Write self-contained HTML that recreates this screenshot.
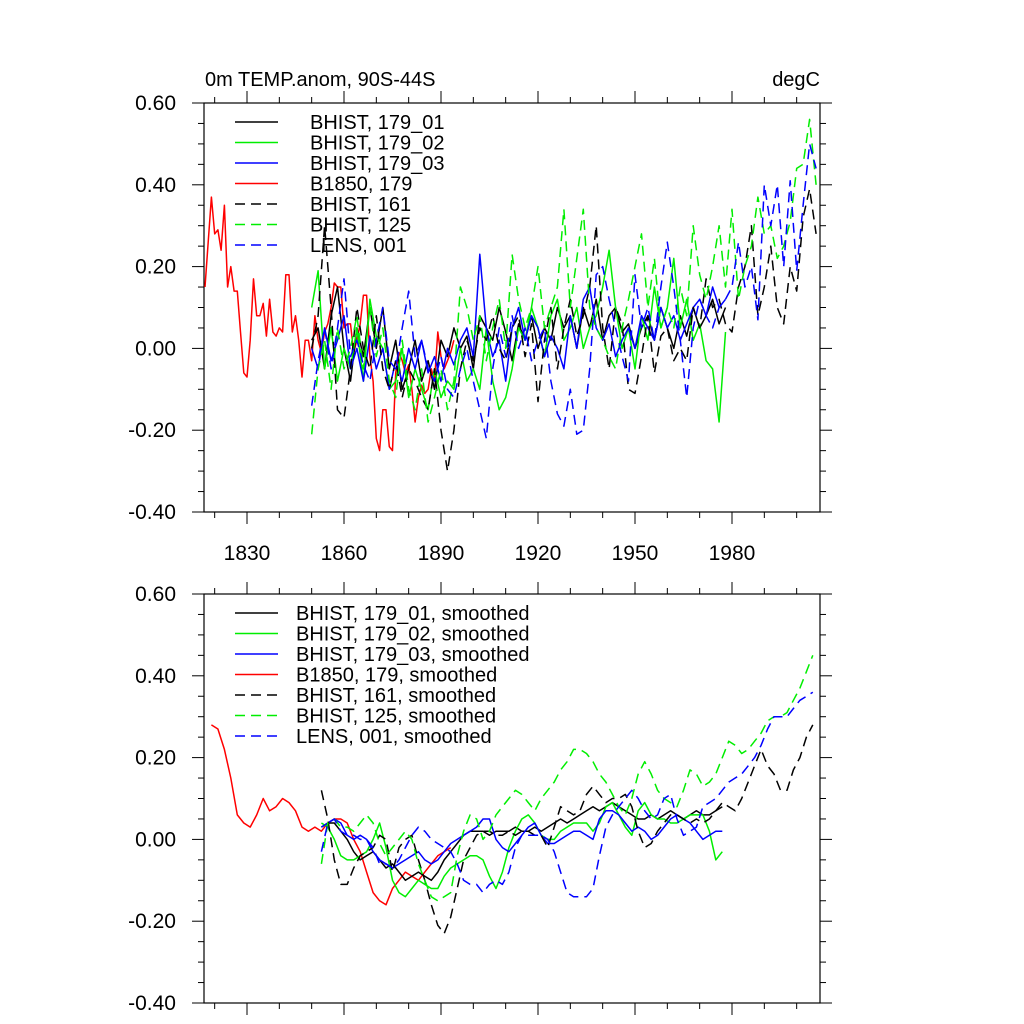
<!DOCTYPE html>
<html><head><meta charset="utf-8"><style>
html,body{margin:0;padding:0;background:#fff;}
svg{display:block;font-family:"Liberation Sans",Arial,sans-serif;}
</style></head><body>
<svg id="chart" width="1024" height="1024" viewBox="0 0 1024 1024">
<g id="top"></g>
<g id="bot"></g>
</svg>
<script>
// ---------- data ----------
const yTickLabels = ["-0.40","-0.20","0.00","0.20","0.40","0.60"];
const yTickValues = [-0.4,-0.2,0,0.2,0.4,0.6];
const xTickLabels = ["1830","1860","1890","1920","1950","1980"];
const xTickYears = [1830,1860,1890,1920,1950,1980];

const seriesNames = ["BHIST, 179_01","BHIST, 179_02","BHIST, 179_03","B1850, 179","BHIST, 161","BHIST, 125","LENS, 001"];

// top panel (annual / 2-yearly anomalies)
const redStart = 1817, redStep = 1;
const redVals = [0.15,0.26,0.37,0.28,0.29,0.24,0.35,0.15,0.20,0.14,0.14,0.04,-0.06,-0.07,0.02,0.17,0.08,0.08,0.11,0.03,0.12,0.04,0.03,0.05,0.04,0.18,0.18,0.04,0.08,0.02,-0.07,0.02,
0.02,-0.03,0.08,0.02,-0.01,0.04,0.06,0.10,0.16,0.15,0.15,0.05,0.06,0.06,-0.01,0.02,0.06,0.13,0.13,-0.02,-0.08,-0.22,-0.25,-0.15,-0.15,-0.24,-0.25,-0.06,-0.01,-0.03,-0.06,-0.04,-0.10,-0.18,-0.12,-0.09,-0.11,-0.10,-0.05,-0.08,0.04,-0.02,-0.05,-0.03,-0.01,0.02];

const solStart = 1850, solStep = 2;
const blackSolVals = [0.02,0.05,-0.05,0.08,0.15,0.00,-0.08,0.05,-0.02,0.10,0.00,0.10,-0.05,0.02,-0.10,-0.05,0.02,-0.08,-0.03,-0.10,0.02,-0.02,0.05,0.00,0.03,-0.05,0.08,0.05,0.02,0.10,0.04,-0.03,0.06,0.02,0.08,0.00,0.05,0.02,0.10,0.05,0.08,0.00,0.10,0.05,0.12,0.02,0.08,0.10,0.04,0.06,0.00,0.05,0.08,0.02,0.10,0.05,0.00,0.08,0.03,0.10,0.05,0.08,0.12,0.06,0.10];
const greenSolVals = [0.10,0.19,-0.05,0.05,-0.08,0.00,-0.05,0.05,-0.08,0.12,0.03,0.00,-0.10,-0.08,0.00,-0.12,-0.05,-0.10,-0.15,-0.05,-0.12,-0.08,-0.10,0.00,-0.08,-0.05,-0.10,0.05,-0.08,-0.15,-0.12,-0.05,0.05,0.02,0.10,0.05,-0.02,0.08,0.12,0.02,0.05,0.10,0.00,0.05,0.08,0.15,0.24,0.10,0.00,0.05,-0.05,0.08,0.02,0.15,0.05,0.10,0.22,0.05,0.12,0.02,0.06,-0.03,-0.05,-0.18,0.04];
const blueSolVals = [0.00,-0.05,0.05,-0.03,0.02,0.08,-0.05,0.00,-0.08,0.03,-0.05,0.00,-0.10,-0.03,-0.08,0.00,-0.05,0.02,-0.06,-0.02,-0.08,0.00,-0.04,0.02,0.05,-0.02,0.23,0.05,-0.02,0.02,-0.08,0.05,0.10,0.02,0.08,0.05,-0.02,0.03,0.00,-0.05,0.08,0.00,0.12,0.15,0.05,0.02,0.06,-0.02,0.02,0.05,0.00,0.08,0.05,0.02,0.10,0.05,0.08,0.02,0.06,0.10,0.12,0.08,0.15,0.10,0.12];

const dashStart = 1850, dashStep = 2;
const blackDashVals = [0.00,0.08,0.30,0.10,-0.15,-0.17,-0.05,0.10,0.00,-0.05,0.08,-0.05,-0.10,-0.03,-0.12,-0.05,-0.08,-0.12,-0.15,-0.05,-0.20,-0.30,-0.20,-0.05,0.02,-0.03,0.05,0.02,0.08,0.00,-0.03,0.05,0.08,-0.02,0.06,-0.13,0.02,0.10,-0.05,0.05,0.12,0.03,0.08,0.15,0.30,0.05,-0.05,0.10,0.06,-0.10,-0.11,-0.02,0.08,-0.06,0.03,0.05,-0.03,0.00,-0.03,0.10,0.05,0.17,0.10,0.12,0.06,0.04,0.15,0.20,0.30,0.08,0.15,0.25,0.10,0.06,0.20,0.14,0.32,0.39,0.28];
const greenDashVals = [-0.21,-0.05,0.02,-0.10,0.05,-0.05,0.00,0.08,-0.05,0.10,-0.02,0.05,-0.08,-0.12,0.02,-0.10,-0.15,-0.05,-0.18,-0.12,-0.05,-0.15,-0.08,0.15,0.10,0.02,0.08,-0.03,0.05,0.12,0.00,0.23,0.12,0.05,0.10,0.20,0.05,0.10,0.15,0.34,0.10,0.22,0.34,0.10,0.05,0.02,-0.02,-0.05,0.05,0.12,0.20,0.28,0.10,0.22,0.05,0.10,0.05,0.15,0.08,0.30,0.18,0.12,0.20,0.30,0.15,0.34,0.12,0.20,0.25,0.37,0.28,0.30,0.22,0.25,0.31,0.44,0.45,0.56,0.40];
const blueDashVals = [-0.14,-0.03,0.05,-0.05,0.05,0.17,-0.02,0.02,-0.04,-0.08,0.02,0.10,-0.03,-0.05,0.05,0.14,-0.02,0.02,-0.05,-0.08,-0.02,-0.10,-0.12,-0.05,0.00,-0.08,-0.15,-0.22,-0.05,0.05,-0.02,0.08,0.00,0.05,-0.03,0.02,0.05,-0.08,-0.16,-0.19,-0.10,-0.21,-0.20,-0.05,0.18,0.20,0.12,0.05,-0.02,-0.08,0.18,0.05,0.10,0.02,0.15,0.26,0.15,0.02,-0.12,0.05,0.12,0.08,0.05,0.10,0.12,0.15,0.26,0.15,0.20,0.07,0.40,0.30,0.40,0.20,0.41,0.19,0.35,0.50,0.44];

// bottom panel (smoothed)
const redSmStart = 1819, redSmStep = 2;
const redSmVals = [0.28,0.27,0.22,0.15,0.06,0.04,0.03,0.06,0.10,0.07,0.08,0.10,0.09,0.07,0.03,0.02,0.03,0.02,0.04,0.05,0.05,0.04,0.00,-0.03,-0.08,-0.13,-0.15,-0.16,-0.12,-0.10,-0.08,-0.09,-0.10,-0.08,-0.06,-0.04,-0.03,-0.02];
const smStart = 1853, smStep = 2;
const blackSolSm = [0.03,0.04,0.04,0.02,0.00,-0.03,-0.05,-0.04,-0.03,-0.05,-0.07,-0.06,-0.08,-0.10,-0.09,-0.08,-0.09,-0.10,-0.08,-0.05,-0.03,-0.01,0.01,0.02,0.02,0.02,0.01,0.02,0.02,0.02,0.03,0.02,0.02,0.03,0.02,0.03,0.04,0.05,0.04,0.05,0.06,0.07,0.08,0.07,0.08,0.09,0.08,0.07,0.06,0.05,0.05,0.06,0.05,0.06,0.07,0.06,0.05,0.06,0.07,0.06,0.06,0.07,0.08];
const greenSolSm = [0.04,0.03,0.00,-0.04,-0.05,-0.05,-0.04,-0.03,0.00,0.04,-0.02,-0.10,-0.13,-0.14,-0.12,-0.10,-0.11,-0.12,-0.12,-0.09,-0.07,-0.06,-0.05,-0.04,-0.04,-0.05,-0.09,-0.12,-0.08,-0.02,0.02,0.05,0.06,0.04,0.01,0.00,0.00,0.02,0.03,0.04,0.04,0.04,0.02,0.04,0.08,0.09,0.06,0.03,0.01,0.07,0.09,0.06,0.05,0.05,0.04,0.04,0.05,0.06,0.06,0.06,0.02,-0.05,-0.03];
const blueSolSm = [0.03,0.04,0.05,0.04,0.01,0.00,0.01,0.00,-0.03,-0.05,-0.06,-0.07,-0.06,-0.05,-0.04,-0.03,-0.05,-0.06,-0.05,-0.03,-0.01,0.00,0.01,0.02,0.03,0.05,0.05,0.00,-0.02,-0.03,-0.01,0.01,0.03,0.04,0.01,-0.01,-0.01,0.00,0.01,0.02,0.02,0.01,0.00,0.05,0.07,0.07,0.06,0.04,0.02,0.03,0.02,0.00,0.01,0.03,0.05,0.06,0.05,0.04,0.02,0.00,0.01,0.02,0.02];
const blackDashSm = [0.12,0.05,-0.05,-0.11,-0.11,-0.07,-0.04,-0.03,-0.02,0.01,0.00,-0.08,-0.02,0.00,0.01,-0.05,-0.10,-0.16,-0.21,-0.23,-0.19,-0.12,-0.05,-0.02,0.01,0.02,0.02,0.01,0.01,0.02,0.01,0.02,0.02,0.01,0.01,-0.02,0.03,0.08,0.07,0.06,0.07,0.11,0.13,0.11,0.09,0.10,0.10,0.11,0.08,0.02,-0.02,-0.01,0.02,0.04,0.06,0.06,0.05,0.04,0.05,0.04,0.05,0.07,0.09,0.08,0.07,0.10,0.14,0.18,0.22,0.18,0.16,0.12,0.12,0.17,0.20,0.25,0.28];
const greenDashSm = [-0.06,0.04,0.05,0.03,0.03,0.02,0.04,0.06,0.04,-0.01,-0.04,-0.02,0.00,0.02,0.00,-0.06,-0.10,-0.14,-0.15,-0.14,-0.13,-0.04,0.02,0.06,0.05,0.00,0.02,0.06,0.08,0.10,0.12,0.11,0.09,0.07,0.10,0.12,0.14,0.17,0.19,0.22,0.22,0.21,0.19,0.16,0.14,0.11,0.08,0.06,0.10,0.16,0.19,0.16,0.12,0.10,0.09,0.08,0.12,0.17,0.16,0.13,0.14,0.16,0.20,0.24,0.23,0.21,0.22,0.24,0.26,0.29,0.30,0.30,0.31,0.34,0.37,0.41,0.45];
const blueDashSm = [-0.03,0.04,0.05,0.02,0.01,0.01,0.00,0.00,-0.02,-0.06,-0.06,-0.07,-0.05,-0.02,0.01,0.03,0.02,0.00,-0.01,-0.02,-0.03,-0.06,-0.10,-0.11,-0.11,-0.13,-0.11,-0.10,-0.11,-0.08,-0.02,0.01,0.01,0.01,0.01,0.00,-0.03,-0.08,-0.13,-0.14,-0.14,-0.14,-0.12,-0.04,0.03,0.06,0.08,0.10,0.12,0.10,0.07,0.05,0.06,0.10,0.11,0.05,0.01,0.02,0.03,0.08,0.09,0.10,0.12,0.14,0.15,0.16,0.18,0.20,0.23,0.27,0.30,0.30,0.30,0.32,0.34,0.35,0.36];

// ---------- drawing ----------
const NS = "http://www.w3.org/2000/svg";
const X0 = 204, X1 = 820;
function xScale(yr){ return 247 + (yr - 1830) * 3.2333; }
function mk(tag, attrs, parent){
  const e = document.createElementNS(NS, tag);
  for (const k in attrs) e.setAttribute(k, attrs[k]);
  parent.appendChild(e); return e;
}
function makeY(top, bottom){ return v => bottom - (v + 0.4) / 1.0 * (bottom - top); }

function drawAxes(g, top, bottom, showX){
  const yS = makeY(top, bottom);
  const frame = mk("rect", {x:X0, y:top, width:X1-X0, height:bottom-top, fill:"none", stroke:"#000", "stroke-width":1.2}, g);
  
  
  for (let v = -0.4; v <= 0.6001; v += 0.05){
    const y = yS(v);
    const major = Math.abs(Math.round(v*10) - v*10) < 0.01 && Math.round(v*10) % 2 === 0;
    const len = major ? 12 : 6;
    mk("line", {x1:X0-len, x2:X0, y1:y, y2:y, stroke:"#000", "stroke-width":1}, g);
    mk("line", {x1:X1, x2:X1+len, y1:y, y2:y, stroke:"#000", "stroke-width":1}, g);
  }
  yTickValues.forEach((v,i)=>{
    const t = mk("text", {x:176, y:yS(v)+7, "text-anchor":"end", "font-size":21}, g);
    t.textContent = yTickLabels[i];
    
    
  });
  for (let yr = 1820; yr <= 2000; yr += 10){
    const x = xScale(yr);
    const major = (yr - 1830) % 30 === 0;
    const len = major ? 12 : 6;
    mk("line", {x1:x, x2:x, y1:bottom, y2:bottom+len, stroke:"#000", "stroke-width":1}, g);
    mk("line", {x1:x, x2:x, y1:top-len, y2:top, stroke:"#000", "stroke-width":1}, g);
  }
  if (showX){
    xTickYears.forEach((yr,i)=>{
      const t = mk("text", {x:xScale(yr), y:bottom+48, "text-anchor":"middle", "font-size":21}, g);
      t.textContent = xTickLabels[i];
      
      
    });
  }
  return yS;
}

function drawLine(g, yS, start, step, vals, color, dashed, name){
  const pts = vals.map((v,i)=> xScale(start + i*step).toFixed(1) + "," + yS(v).toFixed(1)).join(" ");
  const p = mk("polyline", {points:pts, fill:"none", stroke:color, "stroke-width":1.5, "stroke-linejoin":"round"}, g);
  if (dashed) p.setAttribute("stroke-dasharray", "10,6");
  
  
}

const colors = ["#000","#00ee00","#0000ff","#ff0000","#000","#00ee00","#0000ff"];
const dashes = [false,false,false,false,true,true,true];

function drawLegend(g, y0, textX, suffix){
  seriesNames.forEach((n,i)=>{
    const y = y0 + i*20.5;
    const l = mk("line", {x1:235, x2:278, y1:y, y2:y, stroke:colors[i], "stroke-width":1.5}, g);
    if (dashes[i]) l.setAttribute("stroke-dasharray","10,6");
    
    
    const t = mk("text", {x:textX, y:y+7, "font-size":20}, g);
    t.textContent = n + suffix;
    
    
  });
}

// top
const gt = document.getElementById("top");
const yT = drawAxes(gt, 103, 512, true);
drawLine(gt, yT, redStart, redStep, redVals, colors[3], false, "series-b1850-179");
drawLine(gt, yT, solStart, solStep, blackSolVals, colors[0], false, "series-bhist-179-01");
drawLine(gt, yT, solStart, solStep, greenSolVals, colors[1], false, "series-bhist-179-02");
drawLine(gt, yT, solStart, solStep, blueSolVals, colors[2], false, "series-bhist-179-03");
drawLine(gt, yT, dashStart, dashStep, blackDashVals, colors[4], true, "series-bhist-161");
drawLine(gt, yT, dashStart, dashStep, greenDashVals, colors[5], true, "series-bhist-125");
drawLine(gt, yT, dashStart, dashStep, blueDashVals, colors[6], true, "series-lens-001");
drawLegend(gt, 122, 310, "");
const title = mk("text", {x:205, y:86, "font-size":20}, gt);
title.textContent = "0m TEMP.anom, 90S-44S";


const units = mk("text", {x:820, y:86, "font-size":20, "text-anchor":"end"}, gt);
units.textContent = "degC";



// bottom
const gb = document.getElementById("bot");
const yB = drawAxes(gb, 594, 1003, false);
drawLine(gb, yB, redSmStart, redSmStep, redSmVals, colors[3], false, "series-b1850-179-smoothed");
drawLine(gb, yB, smStart, smStep, blackSolSm, colors[0], false, "series-bhist-179-01-smoothed");
drawLine(gb, yB, smStart, smStep, greenSolSm, colors[1], false, "series-bhist-179-02-smoothed");
drawLine(gb, yB, smStart, smStep, blueSolSm, colors[2], false, "series-bhist-179-03-smoothed");
drawLine(gb, yB, smStart, smStep, blackDashSm, colors[4], true, "series-bhist-161-smoothed");
drawLine(gb, yB, smStart, smStep, greenDashSm, colors[5], true, "series-bhist-125-smoothed");
drawLine(gb, yB, smStart, smStep, blueDashSm, colors[6], true, "series-lens-001-smoothed");
drawLegend(gb, 613, 296, ", smoothed");
</script>
</body></html>
